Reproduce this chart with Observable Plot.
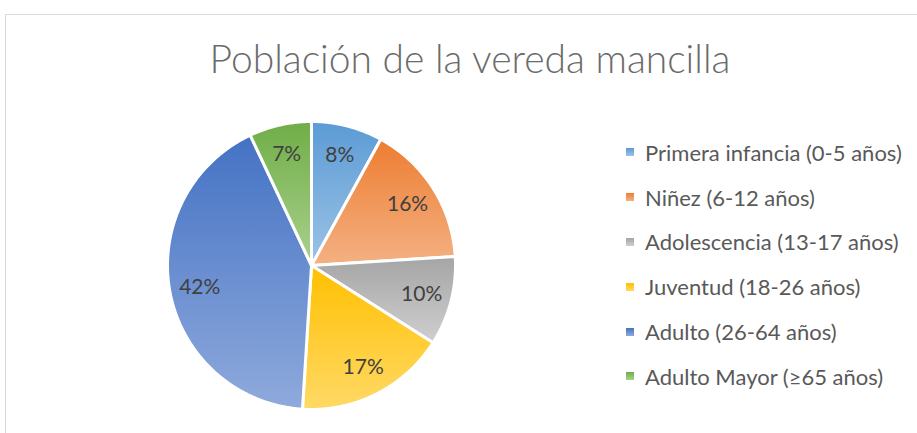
<!DOCTYPE html>
<html>
<head>
<meta charset="utf-8">
<script src="https://cdn.jsdelivr.net/npm/d3@7"></script>
<script src="https://cdn.jsdelivr.net/npm/@observablehq/plot@0.6"></script>
<style>
  html, body { margin: 0; padding: 0; background: #fff; }
  #wrap { position: relative; width: 917px; height: 433px; overflow: hidden; font-family: Lato, "Open Sans", sans-serif; }
  #frame { position: absolute; left: 5px; top: 14px; width: 1000px; height: 500px; border-top: 1px solid #d9d9d9; border-left: 1px solid #d9d9d9; }
  #title { position: absolute; left: 0; width: 940px; top: 35px; text-align: center; font-size: 39px; font-weight: 300; color: #6b6b6b; white-space: nowrap; }
  #chart { position: absolute; left: 0; top: 0; }
  #legend { position: absolute; left: 626px; top: 130px; }
  .item { display: flex; align-items: center; height: 44.8px; font-size: 22px; color: #595959; white-space: nowrap; }
  .sw { width: 8px; height: 8px; margin-right: 11px; }
</style>
</head>
<body>
<div id="wrap">
  <div id="frame"></div>
  <div id="chart"></div>
  <div id="title">Población de la vereda mancilla</div>
  <div id="legend"></div>
</div>
<script>
const categories = [
  "Primera infancia (0-5 años)",
  "Niñez (6-12 años)",
  "Adolescencia (13-17 años)",
  "Juventud (18-26 años)",
  "Adulto (26-64 años)",
  "Adulto Mayor (≥65 años)"
];
const values = [8, 16, 10, 17, 42, 7];
const labels = ["8%", "16%", "10%", "17%", "42%", "7%"];
const topColors = ["#5b9bd5", "#ed7d31", "#a5a5a5", "#ffc000", "#4472c4", "#70ad47"];
const bottomColors = ["#9dc3e6", "#f4b183", "#cfcfcf", "#ffd966", "#8faadc", "#a9d18e"];

const total = d3.sum(values);
let acc = 0;
const slices = values.map((v, i) => {
  const a0 = acc / total * 2 * Math.PI;
  acc += v;
  const a1 = acc / total * 2 * Math.PI;
  const ring = [[0, 0]];
  const n = Math.max(2, Math.ceil((a1 - a0) / 0.01));
  for (let k = 0; k <= n; k++) {
    const t = a0 + (a1 - a0) * k / n;
    ring.push([Math.sin(t), -Math.cos(t)]);
  }
  ring.push([0, 0]);
  const mid = (a0 + a1) / 2;
  return {
    category: categories[i],
    label: labels[i],
    lx: 0.79 * Math.sin(mid),
    ly: -0.79 * Math.cos(mid),
    geometry: {type: "Polygon", coordinates: [ring]}
  };
});

const gradIds = categories.map((c, i) => `grad${i}`);

function defs() {
  const g = d3.create("svg:g");
  const d = g.append("defs");
  categories.forEach((c, i) => {
    const lg = d.append("linearGradient").attr("id", gradIds[i])
      .attr("x1", 0).attr("y1", 0).attr("x2", 0).attr("y2", 1);
    lg.append("stop").attr("offset", "0%").attr("stop-color", topColors[i]);
    lg.append("stop").attr("offset", "100%").attr("stop-color", bottomColors[i]);
  });
  return g.node();
}

const chart = Plot.plot({
  width: 917,
  height: 433,
  marginLeft: 167,
  marginRight: 462,
  marginTop: 121,
  marginBottom: 24,
  projection: {type: "identity", domain: {type: "MultiPoint", coordinates: [[-1, -1], [1, 1]]}},
  color: {type: "ordinal", domain: categories, range: gradIds.map(id => `url(#${id})`)},
  style: {background: "transparent", overflow: "visible"},
  marks: [
    defs,
    Plot.geo(slices, {geometry: "geometry", fill: "category", stroke: "white", strokeWidth: 3, strokeLinejoin: "round"}),
    Plot.text(slices, {x: "lx", y: "ly", text: "label", fontSize: 21, fill: "#404040", fontFamily: "Lato, 'Open Sans', sans-serif"})
  ]
});
document.getElementById("chart").appendChild(chart);

const legend = document.getElementById("legend");
categories.forEach((c, i) => {
  const item = document.createElement("div");
  item.className = "item";
  const sw = document.createElement("span");
  sw.className = "sw";
  sw.style.background = `linear-gradient(${topColors[i]}, ${bottomColors[i]})`;
  const tx = document.createElement("span");
  tx.textContent = c;
  item.appendChild(sw);
  item.appendChild(tx);
  legend.appendChild(item);
});
</script>
</body>
</html>
